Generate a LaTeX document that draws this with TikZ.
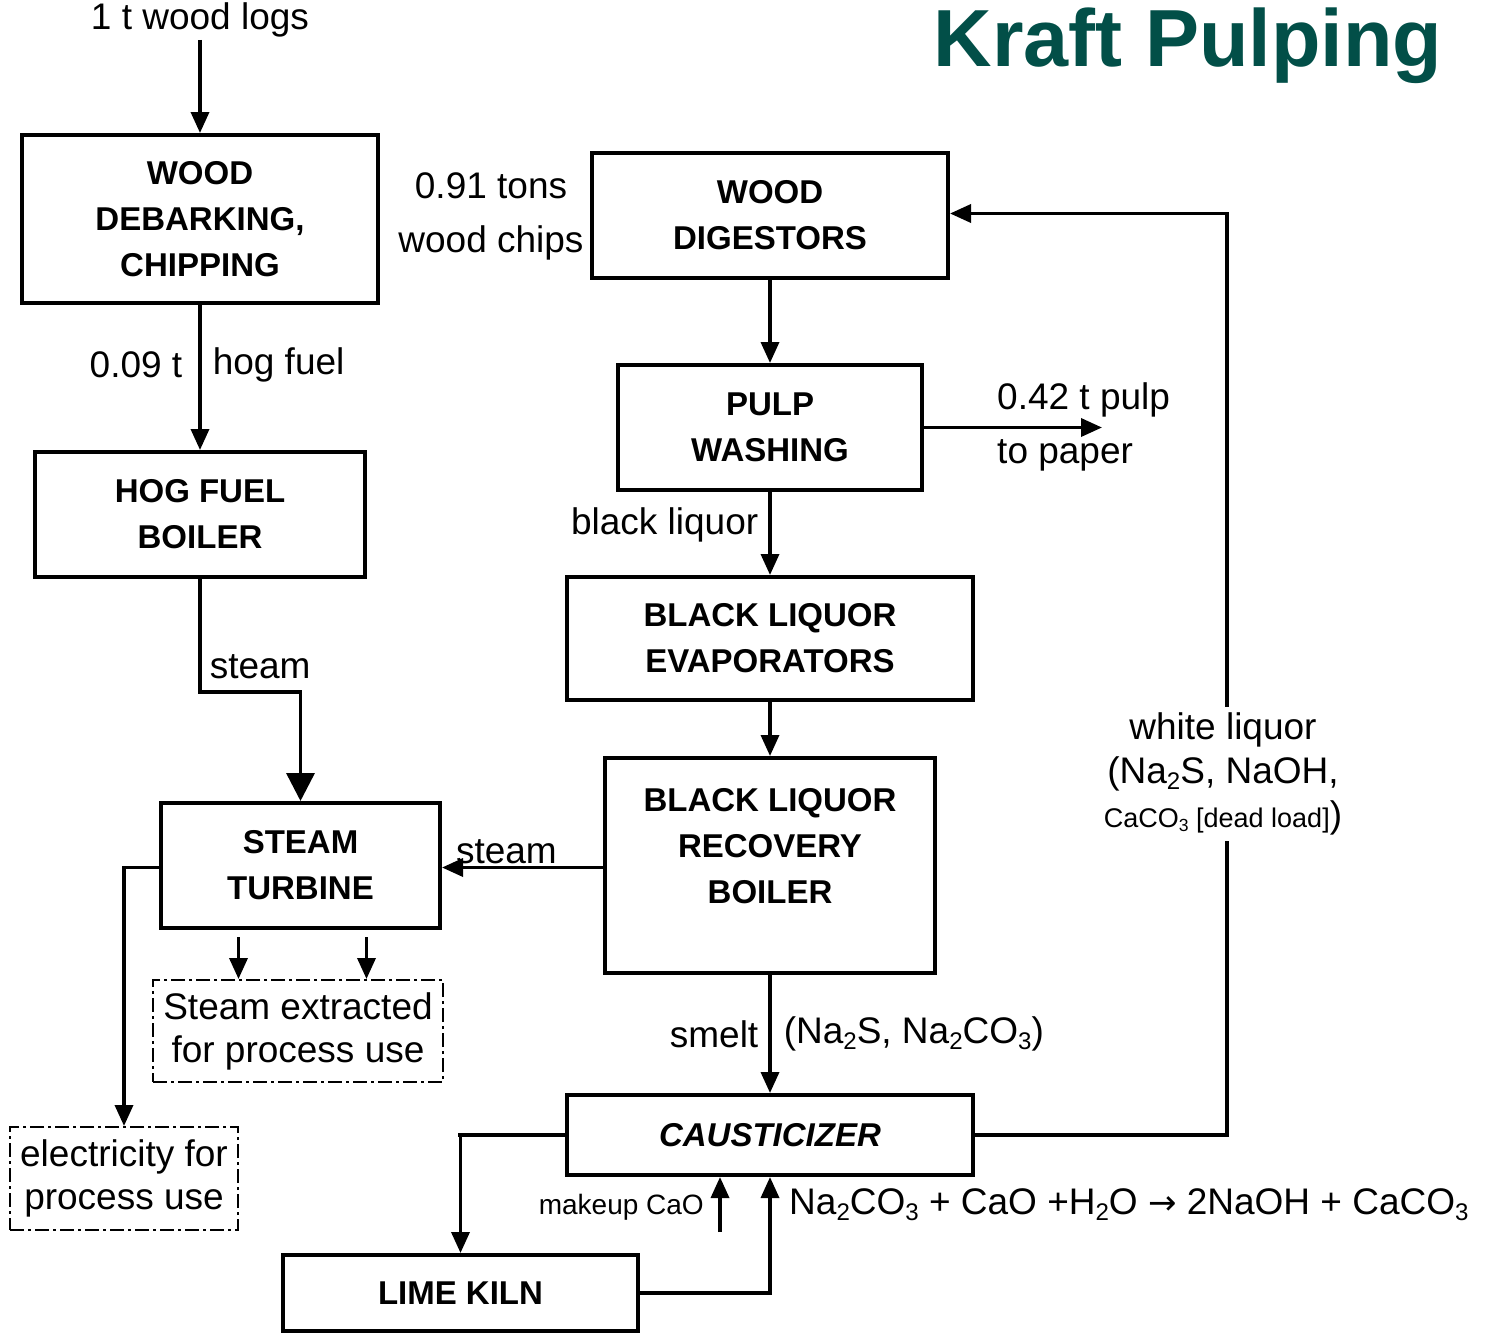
\documentclass[tikz,border=0pt]{standalone}
\usepackage{fontspec}
\setmainfont{Liberation Sans}
\newfontfamily\symfont{DejaVu Sans}
\usetikzlibrary{arrows.meta,positioning,calc}
\definecolor{titleteal}{RGB}{2,79,72}
\newcommand{\chsub}[1]{\raisebox{-0.3ex}{\scalebox{0.65}{#1}}}

\begin{document}
\begin{tikzpicture}[
  x=1pt,y=-1pt,
  lbl/.style={font=\fontsize{37}{44}\selectfont,inner sep=3pt},
  small/.style={font=\fontsize{28}{33}\selectfont,inner sep=2pt},
  box/.style={draw,line width=4pt,align=center,font=\fontsize{33}{46}\selectfont\bfseries},
  dbox/.style={draw,line width=2pt,dash pattern=on 14pt off 4pt on 3pt off 4pt,align=center,
    font=\fontsize{37}{43}\selectfont,inner sep=1pt},
  arr/.style={line width=3.5pt,-{Triangle[length=21pt,width=18pt]}},
  bigarr/.style={line width=3.5pt,-{Triangle[length=28pt,width=28pt]}},
  title/.style={font=\fontsize{81}{88}\selectfont\bfseries,text=titleteal,inner sep=0pt}
]
\useasboundingbox (0,0) rectangle (1503,1333);

\node[title,anchor=base] (head) at (1188,66) {Kraft Pulping};

% left column
\node[lbl,anchor=base] (logs) at (200,29) {1 t wood logs};
\node[box,minimum width=356pt,minimum height=168pt] (deb) at (200,219) {WOOD\\DEBARKING,\\CHIPPING};
\node[box,minimum width=330pt,minimum height=125pt] (hog) at (200,514.5) {HOG FUEL\\BOILER};
\node[box,minimum width=279pt,minimum height=125pt] (turb) at (300.5,865.5) {STEAM\\TURBINE};
\node[dbox,minimum width=290pt,minimum height=102pt] (ext) at (298,1031) {Steam extracted\\for process use};
\node[dbox,minimum width=228pt,minimum height=103pt] (elec) at (124,1178.5) {electricity for\\process use};

% right column
\node[box,minimum width=356pt,minimum height=125pt] (dig) at (770,215.5) {WOOD\\DIGESTORS};
\node[box,minimum width=304pt,minimum height=125pt] (wash) at (770,427.5) {PULP\\WASHING};
\node[box,minimum width=406pt,minimum height=123pt] (evap) at (770,638.5) {BLACK LIQUOR\\EVAPORATORS};
\node[box,minimum width=330pt,minimum height=215pt] (rec) at (770,865.5) {};
\node[box,draw=none] (rectxt) at ([yshift=19pt]rec.center) {BLACK LIQUOR\\RECOVERY\\BOILER};
\node[box,minimum width=406pt,minimum height=80pt,font=\fontsize{33}{46}\selectfont\bfseries\itshape] (caust) at (770,1135) {CAUSTICIZER};
\node[box,minimum width=355pt,minimum height=76pt] (kiln) at (460.5,1293) {LIME KILN};

\node[lbl,align=center] (chips) at ([xshift=6pt,yshift=1pt]$(deb.east)!0.5!(dig.west)$) {0.91 tons\\[10pt]wood chips};

% connectors
\draw[arr] (logs) -- (deb);
\draw[arr] (deb) -- node[lbl,left,pos=0.41,inner sep=16pt]{0.09 t} node[lbl,right,pos=0.41,inner sep=11pt]{hog fuel} (hog);
\draw[bigarr] (hog.south) -- node[lbl,right,pos=0.78,inner sep=8pt]{steam} ++(0,113) -| (turb.north);
\draw[arr] ([xshift=-62pt,yshift=-7pt]turb.south) -- ([xshift=-62pt]turb.south |- ext.north);
\draw[arr] ([xshift=66pt,yshift=-7pt]turb.south) -- ([xshift=66pt]turb.south |- ext.north);
\draw[arr] ([yshift=-2pt]turb.west) -| (elec.north);

\draw[arr] (dig) -- (wash);
\draw[arr] (wash.east) -- ++(178,0) coordinate (paper);
\node[lbl,anchor=west] (pulp) at ([xshift=70pt,yshift=28pt]wash.east) {0.42 t pulp};
\node[lbl,anchor=west] (topaper) at ([xshift=70pt,yshift=-28pt]wash.east) {to paper};
\draw[arr] (wash) -- node[lbl,left,pos=0.4,inner sep=10pt]{black liquor} (evap);
\draw[arr] (evap) -- (rec);
\draw[arr] ([yshift=-2pt]rec.west) -- node[lbl,above,pos=0.6,inner sep=2pt]{steam} ([yshift=-2pt]turb.east);
\draw[arr] (rec) -- node[lbl,left,inner sep=10pt]{smelt} node[lbl,right,inner sep=12pt]{(Na\chsub{2}S, Na\chsub{2}CO\chsub{3})} (caust);

\draw[arr] (caust.east) -- ++(252,0) |- node[lbl,pos=0.196,fill=white,align=center,inner sep=6pt,xshift=-4pt]
  {white liquor\\(Na\chsub{2}S, NaOH,\\{\fontsize{27}{32}\selectfont CaCO\chsub{3} [dead load]})} ([yshift=2pt]dig.east);
\draw[arr] (caust.west) -- ++(-107,0) -| (kiln.north);
\draw[arr] (kiln.east) -| (caust.south);
\coordinate (mkin) at ([xshift=-50pt,yshift=-55pt]caust.south);
\draw[arr] (mkin) -- (mkin |- caust.south);
\node[small,anchor=east] (mk) at ([xshift=-14pt,yshift=25pt]mkin) {makeup CaO};
\node[lbl,anchor=west] (rxn) at ([xshift=16pt,yshift=-28pt]caust.south)
  {Na\chsub{2}CO\chsub{3} + CaO +H\chsub{2}O {\symfont\fontsize{34}{40}\selectfont →} 2NaOH + CaCO\chsub{3}};
\end{tikzpicture}
\end{document}
